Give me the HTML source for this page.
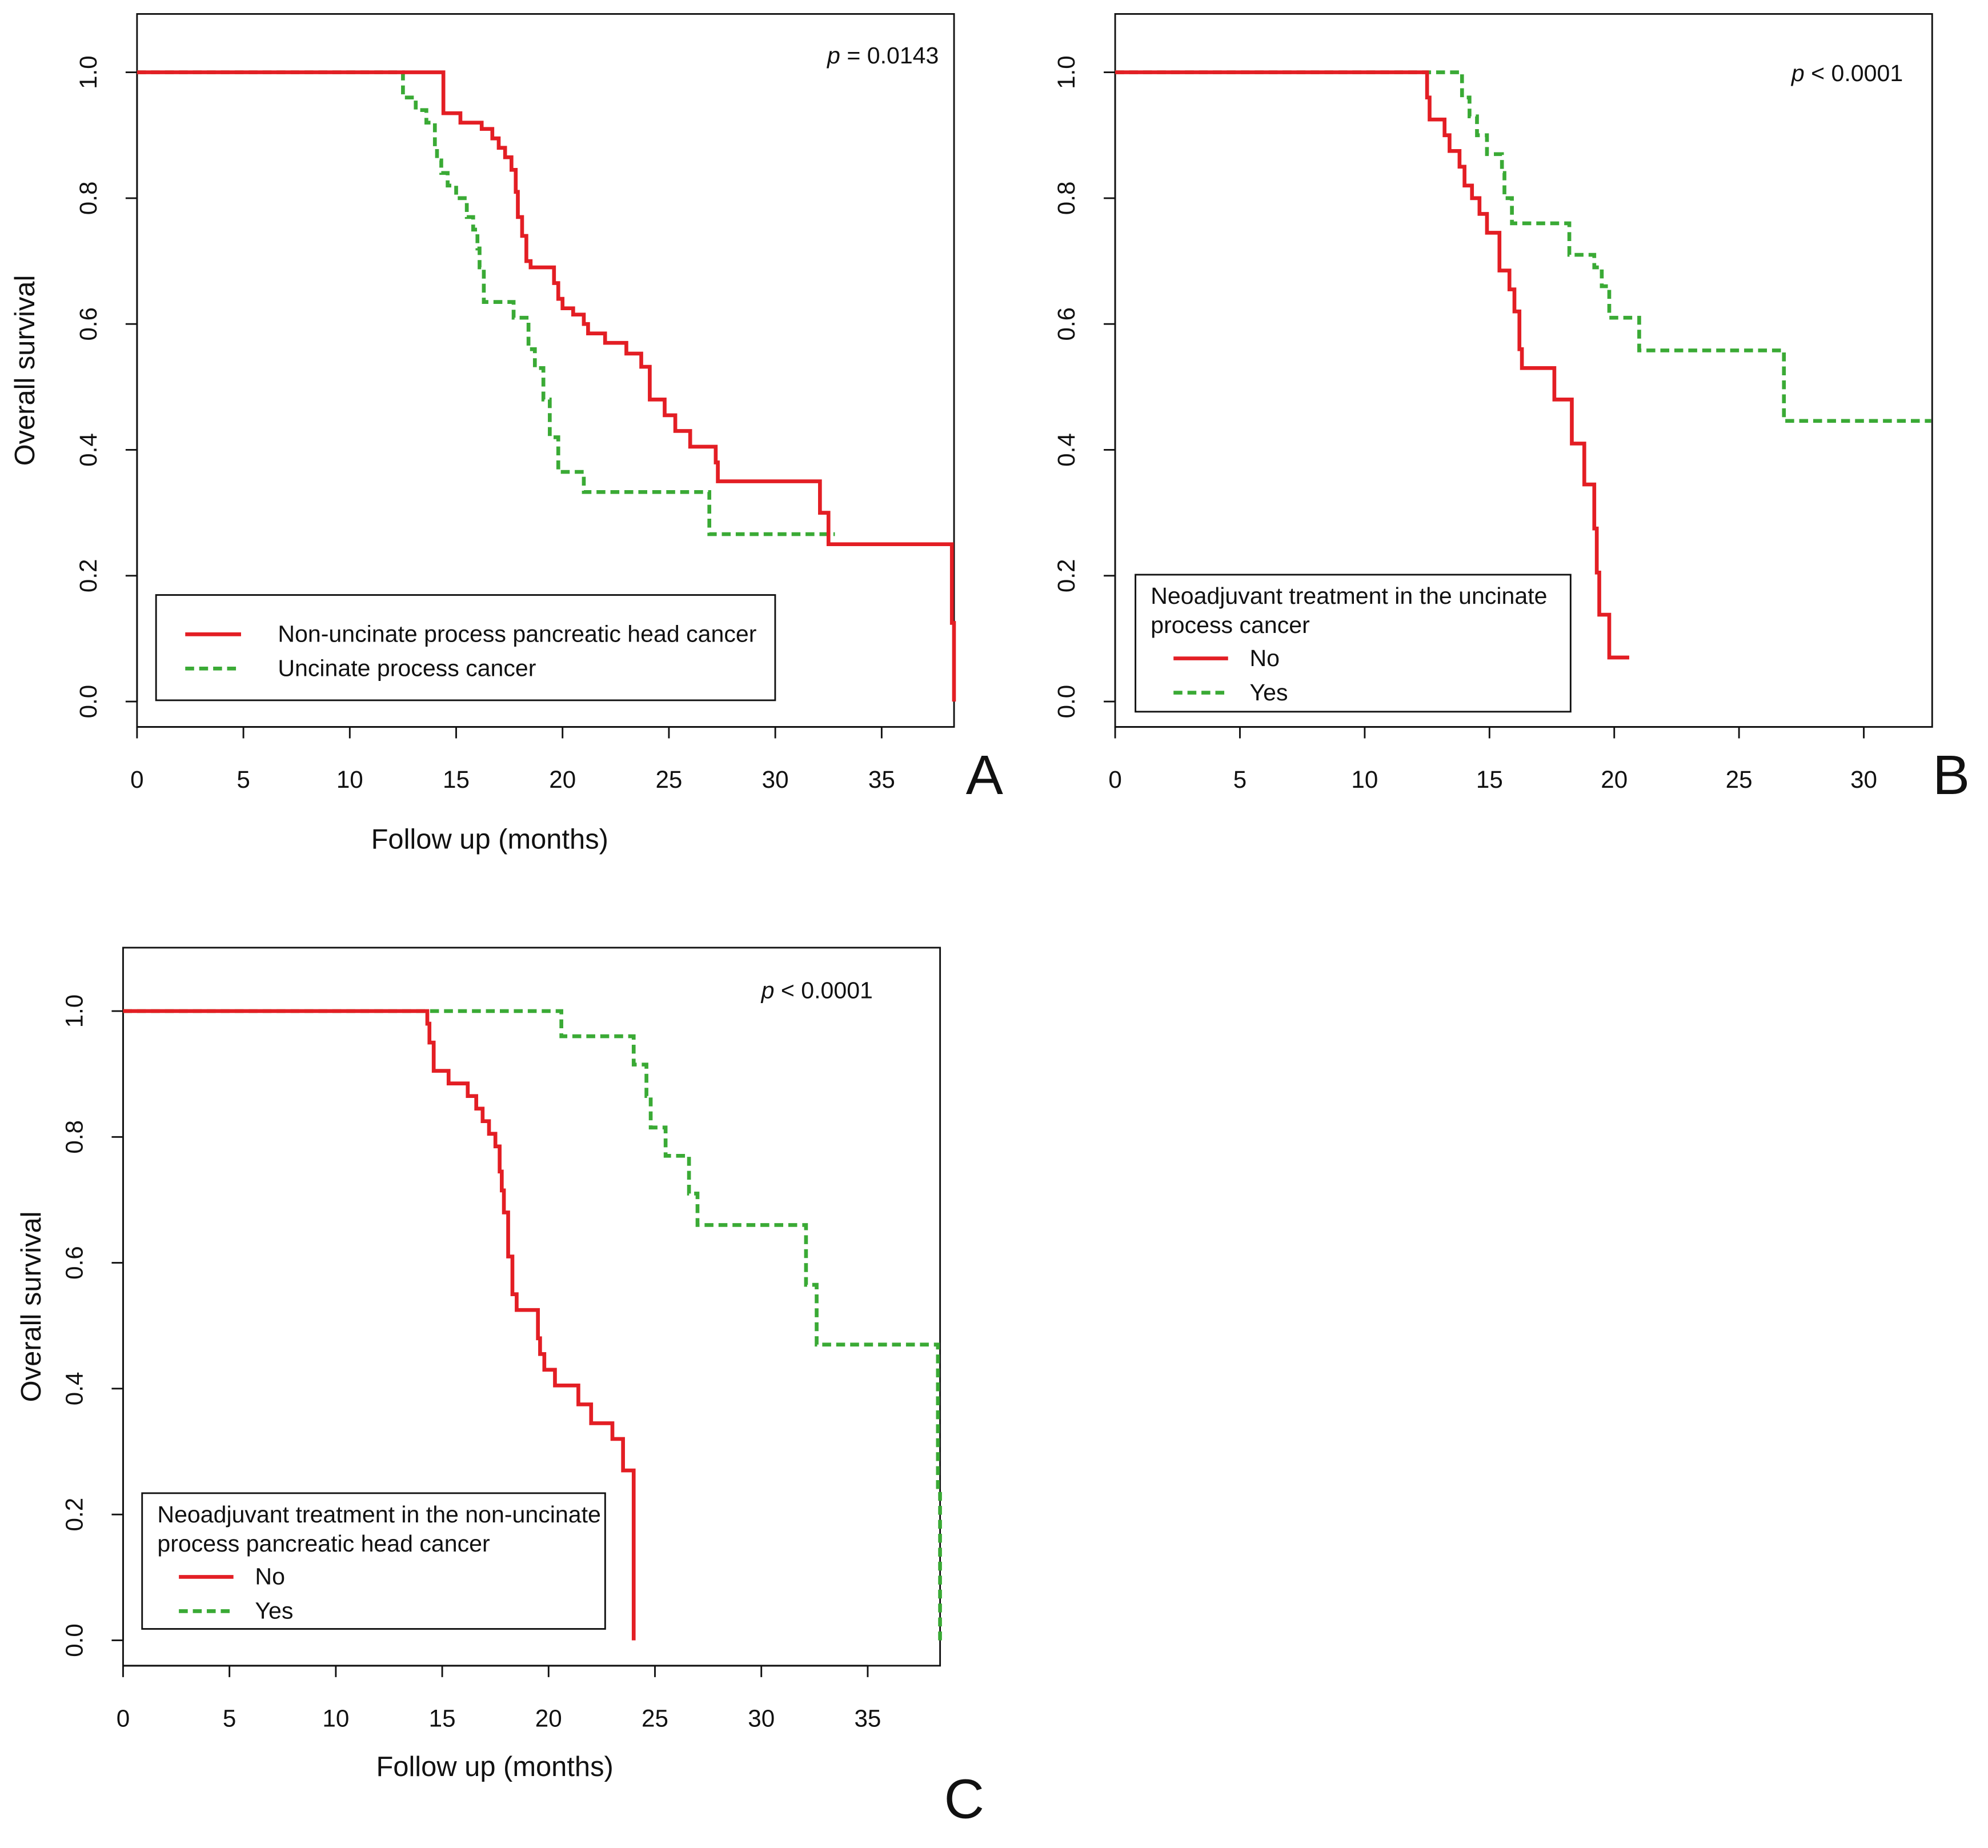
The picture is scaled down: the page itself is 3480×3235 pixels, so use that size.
<!DOCTYPE html>
<html><head><meta charset="utf-8"><style>
html,body{margin:0;padding:0;background:#fff;}
svg{display:block;font-family:"Liberation Sans",Arial,sans-serif;}
</style></head><body>
<svg id="fig" width="3480" height="3235" viewBox="0 0 1567 1456.7" xmlns="http://www.w3.org/2000/svg"></svg>
<script>
// Panel A data
const aRedT=[14.4,15.2,16.2,16.7,17,17.3,17.6,17.8,17.9,18.1,18.3,18.5,19.6,19.8,20,20.5,21,21.2,22,23,23.7,24.1,24.8,25.3,26,27.2,27.3,32.1,32.5,38.3,38.4];
const aRedS=[0.935,0.92,0.91,0.895,0.88,0.865,0.845,0.81,0.77,0.74,0.70,0.69,0.665,0.64,0.625,0.615,0.6,0.585,0.57,0.553,0.532,0.48,0.455,0.43,0.405,0.38,0.35,0.30,0.25,0.125,0];
const aGrnT=[12.5,13.1,13.6,14,14.1,14.3,14.6,15,15.5,15.8,16,16.1,16.3,17.7,18.4,18.7,19.1,19.4,19.8,21,26.9];
const aGrnS=[0.96,0.94,0.92,0.88,0.86,0.84,0.82,0.80,0.77,0.75,0.72,0.69,0.635,0.61,0.56,0.53,0.48,0.42,0.365,0.333,0.266];
// Panel B data
const bRedT=[12.5,12.6,13.2,13.4,13.8,14,14.3,14.6,14.9,15.4,15.8,16,16.2,16.3,17.6,18.3,18.8,19.2,19.3,19.4,19.8];
const bRedS=[0.96,0.925,0.90,0.875,0.85,0.82,0.80,0.775,0.745,0.685,0.655,0.62,0.56,0.53,0.48,0.41,0.345,0.275,0.205,0.138,0.07];
const bGrnT=[13.9,14.2,14.5,14.9,15.5,15.6,15.9,18.2,19.2,19.5,19.8,21,26.8];
const bGrnS=[0.96,0.93,0.90,0.87,0.84,0.80,0.76,0.71,0.69,0.66,0.61,0.558,0.446];
// Panel C data
const cRedT=[14.3,14.4,14.6,15.3,16.2,16.6,16.9,17.2,17.5,17.7,17.8,17.9,18.1,18.3,18.5,19.5,19.6,19.8,20.3,21.4,22,23,23.5,24];
const cRedS=[0.98,0.95,0.905,0.885,0.865,0.845,0.825,0.805,0.785,0.745,0.715,0.68,0.61,0.55,0.525,0.48,0.455,0.43,0.405,0.375,0.345,0.32,0.27,0];
const cGrnT=[20.6,24.0,24.6,24.8,25.5,26.6,27,32.1,32.6,38.3,38.4];
const cGrnS=[0.96,0.915,0.865,0.815,0.77,0.71,0.66,0.565,0.47,0.24,0];
const xTicks=[0,5,10,15,20,25,30,35];
const yTicks=[0,0.2,0.4,0.6,0.8,1.0];

const NS="http://www.w3.org/2000/svg";
const svg=document.getElementById('fig');
function mk(tag,attrs,parent){const e=document.createElementNS(NS,tag);for(const k in attrs)e.setAttribute(k,attrs[k]);(parent||svg).appendChild(e);return e;}
function txt(parent,x,y,s,size,anchor,extra){const t=mk('text',Object.assign({x:x,y:y,'font-size':size,'text-anchor':anchor||'start',fill:'#111'},extra||{}),parent);t.textContent=s;return t;}

function panel(p){
  const g=mk('g',{});
  
  
  const sx=t=>p.x0+t*p.kx;
  const sy=s=>p.y1-s*496;
  const box=mk('rect',{x:p.bx0,y:p.by0,width:p.bx1-p.bx0,height:p.by1-p.by0,fill:'none',stroke:'#111','stroke-width':1.3},g);
  
  const xt=xTicks.filter(v=>sx(v)<=p.bx1+0.5);
  const xa=mk('g',{},g);
  mk('line',{x1:sx(xt[0]),x2:sx(xt[xt.length-1]),y1:p.by1,y2:p.by1,stroke:'#111','stroke-width':1.3},xa);
  xt.forEach(v=>{mk('line',{x1:sx(v),x2:sx(v),y1:p.by1,y2:p.by1+9,stroke:'#111','stroke-width':1.3},xa);
    const l=txt(xa,sx(v),p.by1+48,String(v),19,'middle');});
  const ya=mk('g',{},g);
  mk('line',{x1:p.bx0,x2:p.bx0,y1:sy(0),y2:sy(1),stroke:'#111','stroke-width':1.3},ya);
  yTicks.forEach(v=>{mk('line',{x1:p.bx0,x2:p.bx0-9,y1:sy(v),y2:sy(v),stroke:'#111','stroke-width':1.3},ya);
    const l=txt(ya,p.bx0-32,sy(v),v.toFixed(1),19,'middle',{transform:`rotate(-90 ${p.bx0-32} ${sy(v)})`});});
  if(p.xtitle){const t=txt(g,p.xtitle[0],p.xtitle[1],'Follow up (months)',22,'middle');}
  if(p.ytx){const yc=(p.by0+p.by1)/2;const yt=txt(g,p.ytx,yc,'Overall survival',22,'middle',{transform:`rotate(-90 ${p.ytx} ${yc})`});
  }
  function curve(T,S,end,col,dash,name){
    let d=`M${sx(0)},${sy(1)}`;let s=1;
    T.forEach((t,i)=>{d+=` L${sx(t)},${sy(s)} L${sx(t)},${sy(S[i])}`;s=S[i];});
    if(end>T[T.length-1])d+=` L${sx(end)},${sy(s)}`;
    const pa=mk('path',{d:d,fill:'none',stroke:col,'stroke-width':3,'stroke-dasharray':dash?'7,4':'none'},g);
    
  }
  curve(p.gT,p.gS,p.gEnd,'#3aaa35',true,'series-green-curve');
  curve(p.rT,p.rS,p.rEnd,'#e31e24',false,'series-red-curve');
  const pv=txt(g,p.pv[0],p.pv[1],'',18.5,'end');
  const it=mk('tspan',{'font-style':'italic'},pv);it.textContent='p';
  const rest=mk('tspan',{},pv);rest.textContent=p.pvText;
  const L=p.leg;const lg=mk('g',{},g);
  mk('rect',{x:L.x0,y:L.y0,width:L.x1-L.x0,height:L.y1-L.y0,fill:'#fff',stroke:'#111','stroke-width':1.3},lg);
  (L.title||[]).forEach((s,i)=>{const t=txt(lg,L.x0+12,L.ty+i*23,s,18.5);});
  L.items.forEach((it2,i)=>{const y=L.iy+i*27;
    mk('line',{x1:L.lx0,x2:L.lx1,y1:y,y2:y,stroke:i?'#3aaa35':'#e31e24','stroke-width':3,'stroke-dasharray':i?'7,4':'none'},lg);
    const t=txt(lg,L.tx,y+6,it2,18.5);});
  const lt=txt(g,p.letter[0],p.letter[1],p.letter[2],44,'middle');
}
panel({name:'panel-a',x0:108,kx:16.77,y1:553,bx0:108,bx1:752,by0:11,by1:573,xtitle:[386,669],ytx:27,
  rT:aRedT,rS:aRedS,rEnd:38.4,gT:aGrnT,gS:aGrnS,gEnd:32.8,pv:[740,50],pvText:' = 0.0143',
  leg:{x0:123,y0:469,x1:611,y1:552,iy:500,lx0:146,lx1:190,tx:219,items:['Non-uncinate process pancreatic head cancer','Uncinate process cancer']},letter:[776,626,'A']});
panel({name:'panel-b',x0:879,kx:19.67,y1:553,bx0:879,bx1:1523,by0:11,by1:573,xtitle:null,ytx:null,
  rT:bRedT,rS:bRedS,rEnd:20.6,gT:bGrnT,gS:bGrnS,gEnd:32.7,pv:[1500,64],pvText:' < 0.0001',
  leg:{x0:895,y0:453,x1:1238,y1:561,title:['Neoadjuvant treatment in the uncinate','process cancer'],ty:476,iy:519,lx0:925,lx1:968,tx:985,items:['No','Yes']},letter:[1538,626,'B']});
panel({name:'panel-c',x0:97,kx:16.77,y1:1293,bx0:97,bx1:741,by0:747,by1:1313,xtitle:[390,1400],ytx:32,
  rT:cRedT,rS:cRedS,rEnd:24,gT:cGrnT,gS:cGrnS,gEnd:38.4,pv:[688,787],pvText:' < 0.0001',
  leg:{x0:112,y0:1177,x1:477,y1:1284,title:['Neoadjuvant treatment in the non-uncinate','process pancreatic head cancer'],ty:1200,iy:1243,lx0:141,lx1:184,tx:201,items:['No','Yes']},letter:[760,1433,'C']});
</script>
</body></html>
